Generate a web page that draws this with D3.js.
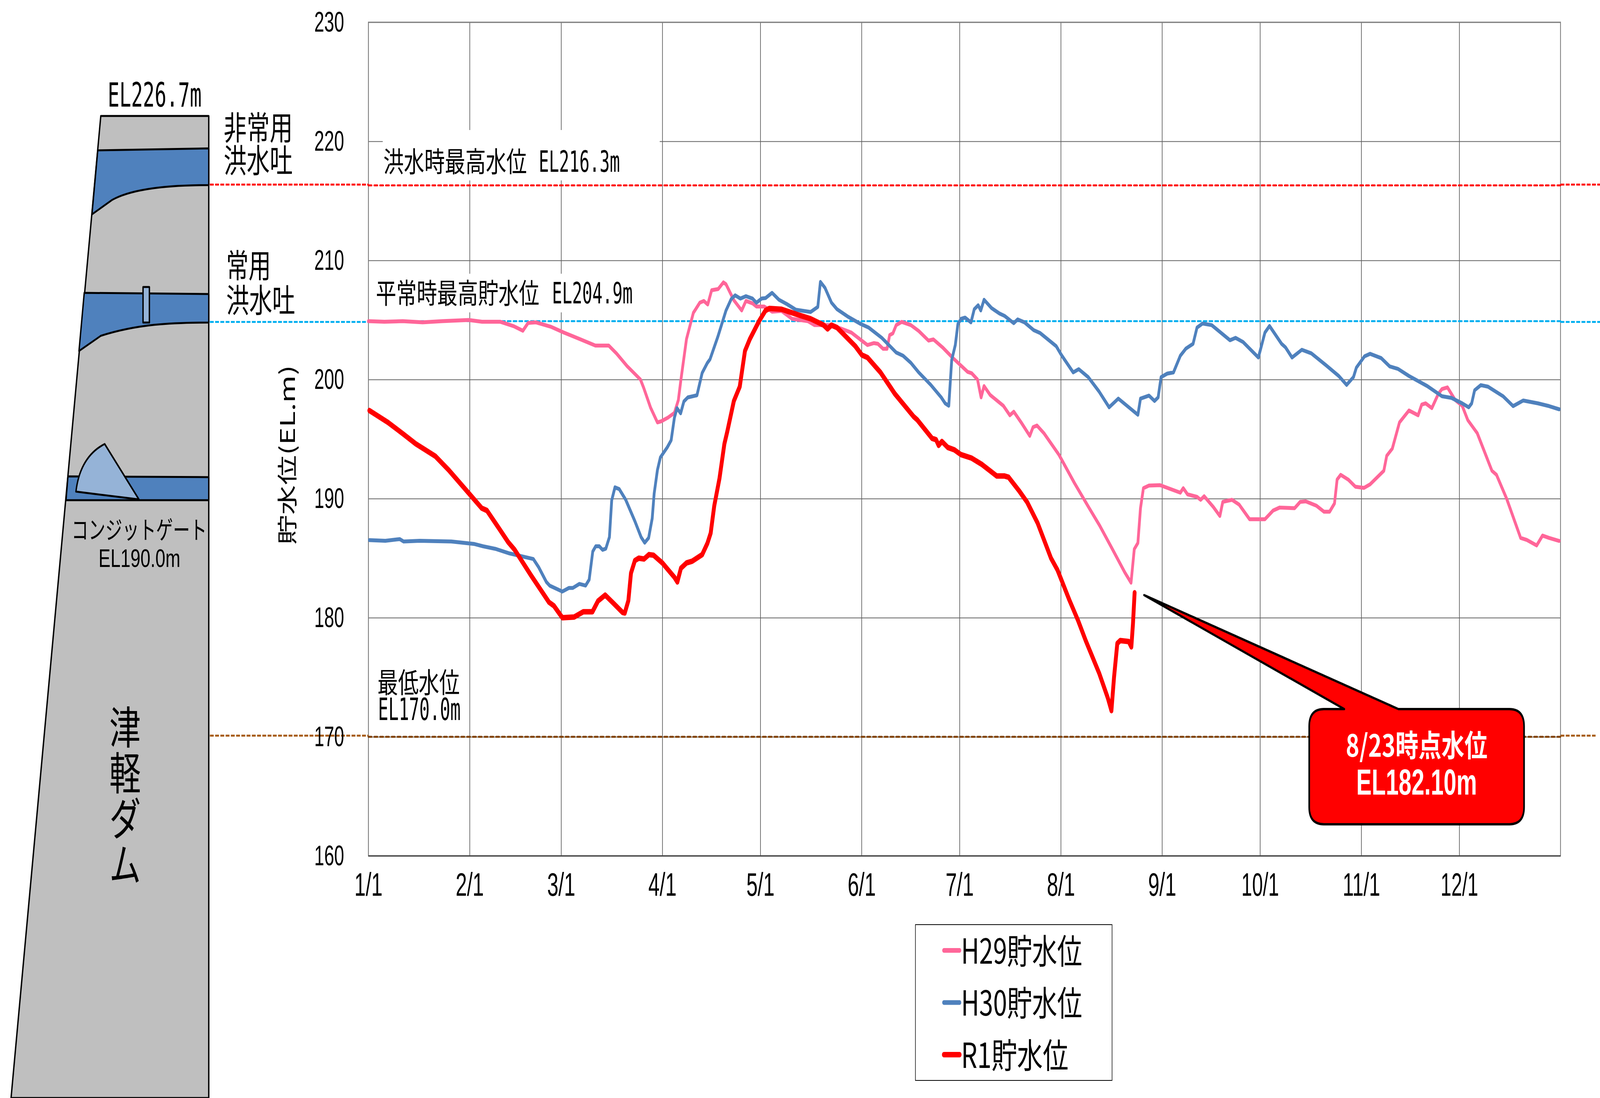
<!DOCTYPE html>
<html lang="ja">
<head>
<meta charset="utf-8">
<title>津軽ダム 貯水位</title>
<script src="https://cdn.jsdelivr.net/npm/d3@7"></script>
<style>
  html, body { margin: 0; padding: 0; background: #fff; overflow: hidden; }
  svg { display: block; width: 100vw; height: 100vh; }
  text { fill: #000; }
</style>
</head>
<body>
<div id="chart"></div>
<script>
// [days since 1/1, water level EL.m]
const h29Levels = [[0,204.9],[4.9,204.85],[10.5,204.9],[16.6,204.8],[22.6,204.9],[30.7,205],[34.8,204.85],[40.4,204.85],[44.5,204.48],[47.3,204.1],[48.9,204.75],[51.3,204.8],[55.8,204.44],[59.8,203.95],[64.7,203.4],[69.5,202.85],[73.6,202.85],[76,202.18],[79.2,201.13],[83.3,200],[84.3,199.3],[86.4,197.64],[88.5,196.4],[89.7,196.5],[91.7,196.8],[93.7,197.2],[94.9,198.27],[95.7,200],[97.4,203.4],[99.5,205.6],[101.5,206.46],[102.7,206.6],[103.9,206.3],[105.1,207.5],[107.1,207.6],[108.7,208.16],[109.5,208],[111.9,206.66],[114.3,205.8],[115.6,206.6],[117.6,206.4],[118.8,206.13],[121.2,206.13],[123.6,205.7],[126.5,205.76],[129.7,205.1],[134.6,204.9],[136.6,204.57],[141.8,204.57],[145.9,204.15],[147.9,203.94],[152.8,202.9],[154.8,203.06],[156,203],[157.6,202.58],[158.8,202.58],[159.6,203.73],[160.6,203.88],[161.6,204.57],[163.3,204.84],[166.1,204.57],[168.5,204.08],[171.5,203.27],[173,203.37],[175.8,202.7],[179,201.8],[183.5,200.64],[184.7,200.53],[186.5,200],[187.6,198.5],[188.5,199.45],[190.4,198.7],[194.4,197.8],[196.4,197],[197.6,197.3],[200.1,196.3],[202.5,195.27],[203.5,196],[204.7,196.14],[206.9,195.47],[211.4,193.7],[216.2,191.3],[220.7,189.2],[223.9,187.74],[227.6,185.86],[231.6,183.8],[233.5,182.94],[234.5,185.76],[235.6,186.28],[236.4,189.2],[237.3,190.88],[239,191.1],[242.4,191.13],[248.6,190.5],[249.5,190.88],[250.8,190.36],[253.7,190.15],[254.8,189.9],[255.9,190.2],[258.7,189.3],[260.7,188.54],[261.6,189.73],[264.4,189.9],[266.6,189.5],[269.8,188.27],[274.5,188.27],[277,189],[279,189.25],[283.6,189.2],[285.3,189.73],[287,189.77],[290.3,189.4],[292.6,188.9],[294.3,188.9],[295.8,189.6],[296.6,191.6],[297.7,192],[300,191.6],[302.2,191],[304.8,190.9],[306.7,191.2],[310.9,192.34],[311.8,193.6],[313.5,194.2],[315.7,196.4],[318.6,197.4],[321.4,197],[322.5,197.9],[323.7,198],[325.6,197.6],[327.6,198.8],[328.7,199.2],[330.4,199.34],[332.7,198.3],[334.9,197.8],[336.6,196.6],[339.5,195.5],[344,192.34],[345.4,192],[348.5,190],[352.8,186.7],[354.7,186.53],[357.7,186.07],[359.5,186.9],[361.5,186.7],[364.6,186.45]];

const h30Levels = [[0.3,186.52],[5.2,186.46],[9.6,186.6],[10.8,186.4],[15.7,186.46],[25.4,186.4],[32.3,186.2],[35.1,186],[39.1,185.77],[43.2,185.4],[50.5,184.93],[52.1,184.26],[54.5,183],[55.5,182.7],[59.4,182.2],[61.4,182.5],[62.6,182.5],[64.6,182.84],[66.5,182.7],[67.6,183.2],[68.7,185.56],[69.6,186],[70.7,186],[71.7,185.7],[72.7,185.8],[73.8,186.77],[74.5,189.86],[75.5,190.95],[76.8,190.8],[78.8,189.9],[81.6,188.1],[83.5,186.77],[84.6,186.3],[85.8,186.7],[86.9,188.34],[87.5,190.43],[88.5,192.4],[89.4,193.46],[91.5,194.3],[92.7,194.9],[93.7,196.8],[94.5,197.6],[95.6,197.16],[96.6,198.16],[97.8,198.5],[100.6,198.68],[102.2,200.56],[103.8,201.4],[104.6,201.7],[107,203.6],[109.5,205.8],[111.1,206.76],[112.3,207.07],[113.9,206.8],[115.6,207],[117.6,206.8],[118.8,206.45],[120.4,206.8],[121.6,206.84],[123.6,207.28],[125.7,206.7],[128.1,206.34],[130.9,205.86],[135.4,205.67],[137.6,206.1],[138.4,208.2],[139.8,207.7],[141.8,206.45],[143.5,205.9],[146.7,205.3],[150.7,204.67],[153.2,204.36],[157.2,203.5],[161.6,202.27],[163.7,202],[166.1,201.4],[168.5,200.6],[172.2,199.55],[175.4,198.5],[176.6,198],[177.7,197.8],[178.6,201.64],[179.7,202.9],[180.5,204.67],[181.5,205.1],[182.7,205.2],[184.5,204.8],[185.5,205.9],[186.7,206.24],[187.5,205.8],[188.5,206.7],[190.8,206],[193.2,205.55],[194.8,205.34],[197.6,204.73],[198.8,205.05],[200.9,204.8],[203.7,204.15],[205.7,203.9],[210.6,202.8],[212.2,202.06],[215.8,200.6],[217.5,200.87],[220.4,200.2],[223.7,199],[226.8,197.67],[229.6,198.4],[235.6,197.04],[236.4,198.4],[239,198.65],[240.7,198.2],[241.8,198.5],[242.7,200.2],[244.6,200.5],[246.5,200.6],[248.6,202],[250.3,202.6],[252.5,203],[253.7,204.36],[255.4,204.7],[258.2,204.57],[263.8,203.3],[265.5,203.5],[267.8,203.15],[272.5,201.85],[274.5,203.94],[275.9,204.5],[279.6,203],[280.8,202.7],[282.8,201.85],[285.8,202.5],[288.7,202.2],[293.2,201.2],[297.1,200.3],[299.5,199.55],[301.6,200.2],[302.5,201],[305,201.95],[306.7,202.16],[310.1,201.8],[312.7,201.1],[315.2,200.9],[318.6,200.3],[324.2,199.45],[328.7,198.6],[331.6,198.46],[334.9,198],[336.9,197.67],[337.8,198],[338.7,199.1],[340.6,199.53],[342.8,199.4],[347.4,198.6],[350.5,197.77],[353.6,198.24],[358.1,198],[361.5,197.77],[364.6,197.5]];

const r1Levels = [[0.3,197.4],[6,196.4],[10.8,195.4],[14.5,194.6],[20.5,193.56],[24.6,192.4],[30.6,190.5],[34.7,189.2],[36.3,189],[40,187.5],[42.8,186.35],[44.8,185.7],[49.7,183.6],[55.3,181.3],[56.8,181],[59.4,180],[63,180.06],[65.8,180.5],[68.6,180.5],[70.3,181.4],[72.5,181.9],[75.1,181.2],[77.8,180.45],[78.5,180.4],[79.6,181.44],[80.4,183.74],[81.6,184.8],[82.8,185],[84.4,184.93],[85.9,185.3],[87.3,185.25],[90,184.6],[93.7,183.4],[94.6,183],[95.7,184.16],[97.4,184.6],[99.1,184.74],[102.2,185.3],[103.8,186.25],[104.8,187.1],[105.9,189.4],[107.5,191.7],[109,194.6],[109.9,195.65],[111.9,198.2],[113.7,199.4],[115.3,202.4],[116.8,203.4],[119.6,204.9],[121.6,205.8],[122.8,205.97],[126.5,205.9],[131.3,205.46],[135.4,205.1],[139.4,204.57],[140.6,204.25],[141.8,204.57],[143.5,204.36],[149.1,202.8],[151.1,202.06],[152.8,201.85],[156.8,200.6],[161.2,198.8],[166.9,196.9],[168.1,196.6],[172.6,195.06],[173.8,194.95],[174.6,194.47],[175.6,194.8],[177.4,194.3],[179.4,194.1],[181.4,193.7],[184.7,193.4],[187.9,192.86],[192.4,191.9],[194.8,191.9],[196,191.8],[199.2,190.67],[201.7,189.7],[204.9,187.95],[209,185],[211,184],[214.6,181.5],[217.3,179.76],[219.6,178.1],[223.8,175.3],[226.4,173.26],[227.5,172.2],[228.3,175],[229.3,177.84],[230.2,178.08],[232.8,178],[233.6,177.55],[234.1,179.5],[234.6,182.1]];

const monthTicks = ['1/1','2/1','3/1','4/1','5/1','6/1','7/1','8/1','9/1','10/1','11/1','12/1'];
const levelTicks = [160,170,180,190,200,210,220,230];
const legendNames = ['H29貯水位','H30貯水位','R1貯水位'];
const seriesColors = ['#FF6699','#4F81BD','#FF0000'];
const floodLevel = 216.3, normalLevel = 204.9, lowLevel = 170;

// drawn in the reference's pixel space, stretched to whatever window we get
const W = 5794, H = 2812;
const plot = { left: 1334, right: 5651, top: 57, bottom: 2192 };
const CJK = '"Noto Sans CJK JP", sans-serif';
const SANS = '"Liberation Sans", Arial, sans-serif';
const MONO = '"DejaVu Sans Mono", monospace';

const svg = d3.select('#chart').append('svg')
  .attr('viewBox', `0 0 ${W} ${H}`).attr('preserveAspectRatio', 'none');
const t0 = Date.UTC(2019, 0, 1);
const toDate = d => new Date(t0 + d * 864e5);
const x = d3.scaleUtc().domain([toDate(0), toDate(365)]).range([plot.left, plot.right]);
const y = d3.scaleLinear().domain([160, 230]).range([plot.bottom, plot.top]);
const monthDates = d3.utcMonth.range(toDate(0), toDate(365));

// text helper, squeezes to the measured width like the gothic in the original
function put(parent, str, px, py, size, len, opts = {}) {
  const el = parent.append('text').attr('x', px).attr('y', py).attr('font-size', size)
    .attr('font-family', opts.family || CJK).attr('font-weight', opts.weight || 400)
    .attr('text-anchor', opts.anchor || 'start').text(str);
  if (len) el.attr('textLength', len).attr('lengthAdjust', 'spacingAndGlyphs');
  if (opts.fill) el.style('fill', opts.fill);
  return el;
}

// grid
const grid = svg.append('g');
grid.append('g').attr('transform', `translate(0,${plot.top})`)
  .call(d3.axisBottom(x).tickValues(monthDates).tickSize(plot.bottom - plot.top).tickFormat(''))
  .call(g => g.selectAll('.tick line').attr('stroke', '#404040').attr('stroke-width', 2))
  .call(g => g.select('.domain').remove());
grid.append('g').attr('transform', `translate(${plot.left},0)`)
  .call(d3.axisLeft(y).tickValues(levelTicks).tickSize(-(plot.right - plot.left)).tickFormat(''))
  .call(g => g.selectAll('.tick line').attr('stroke', '#606060').attr('stroke-width', 2))
  .call(g => g.select('.domain').remove());
grid.append('rect').attr('x', plot.left).attr('y', plot.top).attr('width', plot.right - plot.left).attr('height', plot.bottom - plot.top)
  .attr('fill', 'none').attr('stroke', '#808080').attr('stroke-width', 3);
grid.append('line').attr('x1', plot.left).attr('x2', plot.right).attr('y1', plot.bottom).attr('y2', plot.bottom)
  .attr('stroke', '#404040').attr('stroke-width', 3);

// white boxes behind the two level labels
svg.append('rect').attr('x', 1386).attr('y', 333).attr('width', 1003).attr('height', 129).attr('fill', '#fff');
svg.append('rect').attr('x', 1355).attr('y', 701).attr('width', 1035).attr('height', 99).attr('fill', '#fff');

// reference levels: the part inside the plot is a chart series, the parts outside are pasted shapes
const refOuter = [
  { v: floodLevel, c: '#FF0000', dy: -2, from: 760, to: plot.left },
  { v: floodLevel, c: '#FF0000', dy: -2, from: plot.right, to: W },
  { v: normalLevel, c: '#00B0F0', dy: 2, from: 760, to: plot.left },
  { v: normalLevel, c: '#00B0F0', dy: 2, from: plot.right, to: W },
  { v: lowLevel, c: '#A65A10', dy: -3, from: 760, to: plot.left },
  { v: lowLevel, c: '#A65A10', dy: -3, from: plot.right, to: 5778 }
];
svg.append('g').selectAll('line').data(refOuter).join('line')
  .attr('x1', d => d.from).attr('x2', d => d.to)
  .attr('y1', d => y(d.v) + d.dy).attr('y2', d => y(d.v) + d.dy)
  .attr('stroke', d => d.c).attr('stroke-width', 5).attr('stroke-dasharray', '14 5');
const refInner = [
  { v: floodLevel, c: '#FF0000' }, { v: normalLevel, c: '#00B0F0' }, { v: lowLevel, c: '#7F3F00' }
];
svg.append('g').selectAll('line').data(refInner).join('line')
  .attr('x1', plot.left).attr('x2', plot.right)
  .attr('y1', d => y(d.v)).attr('y2', d => y(d.v))
  .attr('stroke', d => d.c).attr('stroke-width', 5).attr('stroke-linecap', 'round').attr('stroke-dasharray', '12 9');

// axes
const yAxis = svg.append('g').attr('transform', `translate(${plot.left},0)`)
  .call(d3.axisLeft(y).tickValues(levelTicks).tickSize(0).tickPadding(88).tickFormat(d3.format('d')));
yAxis.select('.domain').remove();
yAxis.selectAll('text').attr('font-family', SANS).attr('font-size', 72)
  .attr('textLength', 108).attr('lengthAdjust', 'spacingAndGlyphs');

const xAxis = svg.append('g').attr('transform', `translate(0,${plot.bottom})`)
  .call(d3.axisBottom(x).tickValues(monthDates).tickSize(0).tickPadding(42).tickFormat((_, i) => monthTicks[i]));
xAxis.select('.domain').remove();
xAxis.selectAll('text').attr('font-family', SANS).attr('font-size', 84)
  .attr('textLength', (_, i) => monthTicks[i].length * 34).attr('lengthAdjust', 'spacingAndGlyphs');

put(svg, '貯水位(EL.m)', 0, 0, 74, 460, { anchor: 'middle' })
  .attr('transform', 'translate(1068,1165) rotate(-90)');

// water level series
const line = d3.line().x(d => x(toDate(d[0]))).y(d => y(d[1]));
[h29Levels, h30Levels, r1Levels].forEach((s, i) => {
  svg.append('path').attr('d', line(s)).attr('fill', 'none')
    .attr('stroke', seriesColors[i]).attr('stroke-width', i === 2 ? 14 : 10)
    .attr('stroke-linejoin', 'round').attr('stroke-linecap', 'round');
});

// level labels
put(svg, '洪水時最高水位', 1388, 440, 72, 520);
put(svg, 'EL216.3m', 1951, 440, 74, 294, { family: MONO });
put(svg, '平常時最高貯水位', 1361, 777, 72, 592);
put(svg, 'EL204.9m', 1999, 777, 74, 292, { family: MONO });
put(svg, '最低水位', 1367, 1774, 72, 298);
put(svg, 'EL170.0m', 1369, 1844, 78, 299, { family: MONO });

// callout
const callout = svg.append('g');
callout.append('path')
  .attr('d', 'M4794,1816 L4868,1816 L4143,1524 L5064,1816 L5466,1816 Q5519,1816 5519,1860 L5519,2067 Q5519,2111 5466,2111 L4794,2111 Q4741,2111 4741,2067 L4741,1860 Q4741,1816 4794,1816 Z')
  .attr('fill', '#FF0000').attr('stroke', '#000').attr('stroke-width', 6).attr('stroke-linejoin', 'round');
put(callout, '8/23時点水位', 5130, 1938, 78, 513, { anchor: 'middle', weight: 700, fill: '#fff' });
put(callout, 'EL182.10m', 5130, 2035, 92, 437, { anchor: 'middle', family: SANS, weight: 700, fill: '#fff' });

// legend
const legend = svg.append('g');
legend.append('rect').attr('x', 3315).attr('y', 2368).attr('width', 712).attr('height', 399)
  .attr('fill', '#fff').attr('stroke', '#000').attr('stroke-width', 2);
const legendY = d3.scalePoint().domain(legendNames).range([2434, 2701]);
legend.selectAll('line').data(legendNames).join('line')
  .attr('x1', 3418).attr('x2', 3475).attr('y1', d => legendY(d)).attr('y2', d => legendY(d))
  .attr('stroke', (_, i) => seriesColors[i]).attr('stroke-width', (_, i) => i === 2 ? 14 : 12).attr('stroke-linecap', 'round');
legendNames.forEach((n, i) => put(legend, n, 3480, legendY(n) + 34, 88, i === 2 ? 389 : 439));

// dam section, drawn by hand from the original figure
const dam = svg.append('g').attr('stroke', '#000').attr('stroke-width', 5).attr('stroke-linejoin', 'round');
dam.append('path').attr('d', 'M365,297 L756,297 L756,2812 L40,2812 Z').attr('fill', '#BFBFBF');
dam.append('path').attr('d', 'M354,385 L756,380 L756,474 C622,474 481,482 406,512 L333,549 Z').attr('fill', '#4F81BD');
dam.append('path').attr('d', 'M305,750 L756,753 L756,826 C622,826 497,830 365,860 L286,899 Z').attr('fill', '#4F81BD');
dam.append('rect').attr('x', 518).attr('y', 735).attr('width', 23).attr('height', 91).attr('fill', '#95B3D7');
dam.append('path').attr('d', 'M246,1220 L756,1222 L756,1281 L239,1281 Z').attr('fill', '#4F81BD');
dam.append('path').attr('d', 'M275,1259 Q290,1170 379,1137 L503,1279 Z').attr('fill', '#95B3D7');

put(svg, 'EL226.7m', 390, 273, 85, 340, { family: MONO });
put(svg, '非常用', 810, 358, 84, 250);
put(svg, '洪水吐', 810, 442, 84, 250);
put(svg, '常用', 819, 711, 84, 162);
put(svg, '洪水吐', 819, 800, 84, 250);
put(svg, 'コンジットゲート', 504, 1380, 64, 490, { anchor: 'middle' });
put(svg, 'EL190.0m', 505, 1452, 65, 296, { anchor: 'middle', family: SANS });
['津', '軽', 'ダ', 'ム'].forEach((c, i) => put(svg, c, 453, 1905 + i * 117, 114, null, { anchor: 'middle' }));
</script>
</body>
</html>
